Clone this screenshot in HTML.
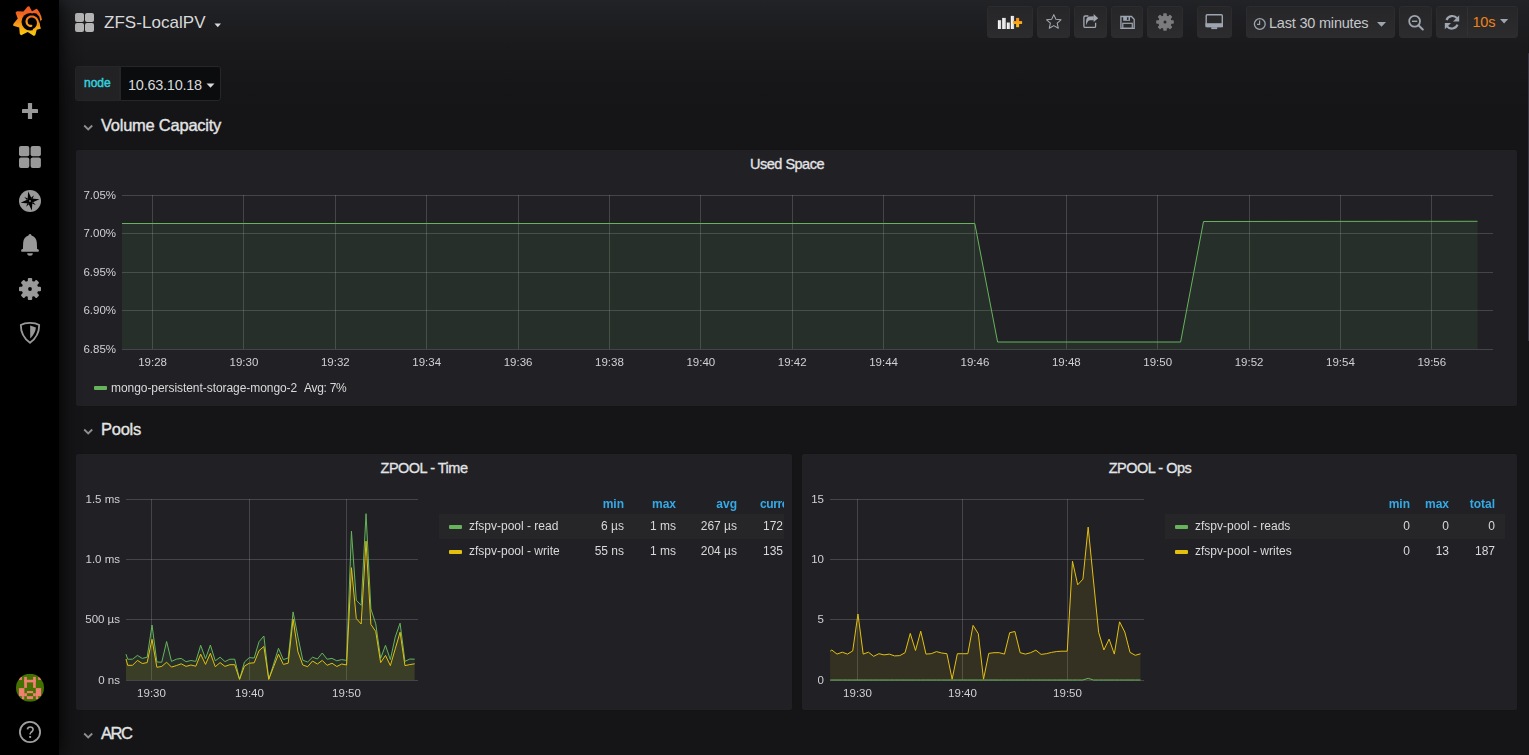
<!DOCTYPE html>
<html><head><meta charset="utf-8"><title>ZFS-LocalPV - Grafana</title>
<style>
*{box-sizing:border-box;margin:0;padding:0}
html,body{width:1529px;height:755px;overflow:hidden;background:#151517;font-family:"Liberation Sans",Arial,sans-serif;color:#d8d9da}
#bg{position:absolute;left:0;top:0;width:1529px;height:755px;background:linear-gradient(180deg,#222326 0px,#1f2023 12px,#1a1a1d 45px,#161618 85px,#151517 110px)}
.side{position:absolute;left:0;top:0;width:59px;height:755px;background:#000;box-shadow:0 0 20px #000;z-index:5}
.side svg{position:absolute;left:0;top:0}
.abs{position:absolute}
.title{position:absolute;left:104px;top:12px;font-size:17px;line-height:22px;color:#d8d9da;letter-spacing:0.05px}
.btn{position:absolute;top:6px;height:32px;border-radius:3px;border:1px solid #2c2c2f;background:linear-gradient(180deg,#262628,#2c2c2f)}
.btn svg{position:absolute;left:0;top:0}
.navtxt{position:absolute;font-size:14.5px;line-height:16px;color:#c4c6c9;letter-spacing:-0.2px;white-space:nowrap}
.varlabel{position:absolute;left:75px;top:66px;width:45px;height:35px;background:#222225;border:1px solid #262628;border-radius:3px 0 0 3px;color:#32d1df;font-size:12px;line-height:33px;padding-left:8px;-webkit-text-stroke:0.45px #32d1df}
.varval{position:absolute;left:120px;top:66px;width:101px;height:35px;background:#0b0c0e;border:1px solid #262628;border-radius:0 3px 3px 0;font-size:14.5px;letter-spacing:-0.25px;line-height:36px;color:#d8d9da;padding-left:7px}
.rowt{position:absolute;left:101px;font-size:16.5px;line-height:20px;letter-spacing:-0.25px;color:#e3e4e6;-webkit-text-stroke:0.35px #e3e4e6;white-space:nowrap}
.chev{position:absolute;left:83px}
.panel{position:absolute;background:#212125;border:1px solid #141414;border-radius:3px}
.ptitle{position:absolute;font-size:14.5px;line-height:16px;letter-spacing:-0.5px;color:#e3e4e6;-webkit-text-stroke:0.3px #e3e4e6;white-space:nowrap;text-align:center}
.tick{position:absolute;font-size:11.5px;line-height:12px;transform:translateY(-50%);color:#d0d1d3;white-space:nowrap}
.tick.c{text-align:center}
.leg{position:absolute;font-size:12px;line-height:14px;color:#d8d9da;white-space:nowrap}
.legh{position:absolute;font-size:12px;line-height:14px;color:#35a9e6;font-weight:bold;white-space:nowrap}
.sw{position:absolute;width:13px;height:4px;border-radius:1px}
.rowbg{position:absolute;background:#262629}
#charts{position:absolute;left:0;top:0}
</style></head>
<body>
<div id="bg"></div>

<!-- ============ SIDEMENU ============ -->
<div class="side">
<svg width="59" height="755" viewBox="0 0 59 755">
  <defs>
    <linearGradient id="glogo" gradientUnits="userSpaceOnUse" x1="0" y1="6" x2="0" y2="36">
      <stop offset="0" stop-color="#f05a28"/>
      <stop offset="0.25" stop-color="#f2621f"/>
      <stop offset="0.6" stop-color="#f69a1a"/>
      <stop offset="1" stop-color="#fbd109"/>
    </linearGradient>
    <clipPath id="avc"><circle cx="30" cy="687.8" r="14"/></clipPath>
  </defs>
  <!-- grafana logo -->
  <path fill="url(#glogo)" d="M27.60,6.50 L29.20,6.20 L32.01,11.27 L36.50,8.80 L37.80,9.80 L39.80,13.00 L41.30,16.50 L41.90,20.00 L40.70,20.60 L39.60,22.60 L40.30,26.80 L41.00,28.50 L36.74,29.84 L35.30,35.00 L34.00,36.00 L27.71,31.91 L21.20,35.20 L19.80,34.00 L19.20,27.61 L13.20,25.80 L13.30,24.00 L17.73,18.49 L15.50,12.50 L17.00,11.30 L23.50,11.52 Z"/>
  <circle cx="30.3" cy="21.8" r="8.8" fill="#000"/>
  <path fill="#000" d="M30.30,21.80 L33.00,13.00 L36.50,13.60 L39.20,16.50 L40.20,20.20 L39.60,22.60 L37.50,24.00 Z"/>
  <path d="M31.34,25.89 L30.75,25.90 L30.16,25.85 L29.59,25.71 L29.03,25.49 L28.50,25.19 L28.01,24.81 L27.57,24.37 L27.20,23.85 L26.90,23.28 L26.68,22.66 L26.56,22.01 L26.52,21.33 L26.59,20.64 L26.77,19.96 L27.04,19.29 L27.42,18.66 L27.90,18.09 L28.47,17.57 L29.12,17.14 L29.85,16.81 L30.63,16.58 L31.46,16.47 L32.31,16.48 L33.17,16.62 L34.02,16.90 L34.83,17.31 L35.59,17.85 L36.28,18.51 L36.87,19.28 L37.35,20.15 L37.70,21.10 L37.91,22.12 L37.96,23.18 L37.85,24.26 L37.58,25.33 L37.13,26.37 L36.52,27.36 L35.76,28.26 L34.85,29.05 L33.80,29.71" fill="none" stroke="url(#glogo)" stroke-width="2.1" stroke-linecap="round"/>
  <!-- plus -->
  <rect x="22" y="108.9" width="16" height="4.2" fill="#999" rx="0.6"/>
  <rect x="27.9" y="103" width="4.2" height="16" fill="#999" rx="0.6"/>
  <!-- dashboards -->
  <rect x="19" y="146" width="10.3" height="10.3" rx="2" fill="#999"/>
  <rect x="30.6" y="146" width="10.3" height="10.3" rx="2" fill="#999"/>
  <rect x="19" y="157.6" width="10.3" height="10.3" rx="2" fill="#999"/>
  <rect x="30.6" y="157.6" width="10.3" height="10.3" rx="2" fill="#999"/>
  <!-- explore compass -->
  <circle cx="30" cy="201" r="11" fill="#999"/>
  <path d="M28.17,191.58 L31.62,198.60 L39.42,199.17 L32.40,202.62 L31.83,210.42 L28.38,203.40 L20.58,202.83 L27.60,199.38 Z" fill="#000"/>
  <path d="M33.91,195.20 L30.88,197.92 L32.52,199.03 Z M35.80,204.91 L33.08,201.88 L31.97,203.52 Z M26.09,206.80 L29.12,204.08 L27.48,202.97 Z M24.20,197.09 L26.92,200.12 L28.03,198.48 Z " fill="#000"/>
  <circle cx="30" cy="201" r="0.9" fill="#888"/>
  <!-- bell -->
  <path d="M30,234 C31,234 31.4,234.8 31.5,235.4 C34.6,236.3 36.6,238.7 36.8,242.6 L37.1,249 L38.1,249.2 C39.1,249.4 39.2,251.7 38.1,251.7 L21.9,251.7 C20.8,251.7 20.9,249.4 21.9,249.2 L22.9,249 L23.2,242.6 C23.4,238.7 25.4,236.3 28.5,235.4 C28.6,234.8 29,234 30,234 Z" fill="#999"/>
  <path d="M27.2,253.2 L32.8,253.2 A2.8,2.5 0 0 1 27.2,253.2 Z" fill="#999"/>
  <!-- gear -->
  <g fill="#999">
    <circle cx="30" cy="289" r="8.3"/>
    <g id="teeth">
      <rect x="27.8" y="278" width="4.4" height="4" rx="1"/>
      <rect x="27.8" y="296" width="4.4" height="4" rx="1"/>
      <rect x="19" y="286.8" width="4" height="4.4" rx="1"/>
      <rect x="37" y="286.8" width="4" height="4.4" rx="1"/>
      <rect x="27.8" y="278" width="4.4" height="4" rx="1" transform="rotate(45 30 289)"/>
      <rect x="27.8" y="296" width="4.4" height="4" rx="1" transform="rotate(45 30 289)"/>
      <rect x="19" y="286.8" width="4" height="4.4" rx="1" transform="rotate(45 30 289)"/>
      <rect x="37" y="286.8" width="4" height="4.4" rx="1" transform="rotate(45 30 289)"/>
    </g>
  </g>
  <circle cx="30" cy="289" r="1.9" fill="#000"/>
  <!-- shield -->
  <path d="M30,322.8 C26.5,322.8 23,323.6 20.8,325 C20.8,332 24,338.5 30,342.8 C36,338.5 39.2,332 39.2,325 C37,323.6 33.5,322.8 30,322.8 Z" fill="none" stroke="#999" stroke-width="1.8"/>
  <path d="M30.2,325.6 L35.9,327.6 C35.6,331.5 33.5,335.5 30.2,338.4 Z" fill="#999"/>
  <!-- avatar -->
  <g clip-path="url(#avc)">
    <rect x="16" y="673.8" width="28" height="28" fill="#437203"/>
    <g fill="#f08070" transform="translate(14,672)">
      <rect x="4.9" y="4.9" width="3" height="3"/>
      <rect x="24.2" y="4.9" width="3" height="3"/>
      <rect x="10.2" y="4.9" width="2.7" height="11"/>
      <rect x="19.1" y="4.9" width="2.7" height="11"/>
      <rect x="10.2" y="7.8" width="11.6" height="2.6"/>
      <rect x="4.9" y="16.1" width="5.5" height="8.05"/>
      <rect x="10.2" y="21.2" width="2.7" height="3"/>
      <rect x="7.8" y="24.15" width="2.4" height="3"/>
      <rect x="21.8" y="16.1" width="5.3" height="8.05"/>
      <rect x="19.1" y="21.2" width="2.7" height="3"/>
      <rect x="21.8" y="24.15" width="2.4" height="3"/>
      <rect x="12.9" y="19.07" width="6.2" height="2.1"/>
      <rect x="12.9" y="24.15" width="6.2" height="2.9"/>
    </g>
  </g>
  <!-- help -->
  <circle cx="30" cy="732" r="10.1" fill="none" stroke="#a0a0a0" stroke-width="1.8"/>
  <path d="M27.4,729.4 C27.6,727.7 28.8,727 30.2,727 C31.9,727 33.1,728.1 33.1,729.6 C33.1,731.2 31.8,731.7 30.9,732.5 C30.3,733 30.1,733.5 30.1,734.6" fill="none" stroke="#a0a0a0" stroke-width="1.6"/>
  <rect x="29.2" y="736" width="1.9" height="1.9" fill="#a0a0a0"/>
</svg>
</div>

<!-- ============ NAVBAR ============ -->
<svg class="abs" style="left:75px;top:13px" width="20" height="20" viewBox="0 0 20 20">
  <rect x="0" y="0" width="9" height="9" rx="2" fill="#b3b3b3"/>
  <rect x="10" y="0" width="9" height="9" rx="2" fill="#b3b3b3"/>
  <rect x="0" y="10" width="9" height="9" rx="2" fill="#b3b3b3"/>
  <rect x="10" y="10" width="9" height="9" rx="2" fill="#b3b3b3"/>
</svg>
<div class="title">ZFS-LocalPV</div>
<svg class="abs" style="left:214px;top:23px" width="8" height="5" viewBox="0 0 8 5"><path d="M0.5,0.5 L7,0.5 L3.75,4.3 Z" fill="#d8d9da"/></svg>

<!-- buttons -->
<div class="btn" style="left:987px;width:46px"></div>
<div class="btn" style="left:1037px;width:33px"></div>
<div class="btn" style="left:1074px;width:33px"></div>
<div class="btn" style="left:1111px;width:32px"></div>
<div class="btn" style="left:1147px;width:36px"></div>
<div class="btn" style="left:1197px;width:35px"></div>
<div class="btn" style="left:1246px;width:149px"></div>
<div class="btn" style="left:1399px;width:33px"></div>
<div class="btn" style="left:1436px;width:82px"></div>
<div class="abs" style="left:1467px;top:7px;width:1px;height:30px;background:#313134"></div>

<svg class="abs" style="left:0;top:0" width="1529" height="45" viewBox="0 0 1529 45">
  <defs>
    <linearGradient id="barg" x1="0" y1="0" x2="1" y2="0"><stop offset="0" stop-color="#fff"/><stop offset="1" stop-color="#d0d0d0"/></linearGradient>
    <linearGradient id="plusg" x1="0" y1="0" x2="0" y2="1"><stop offset="0" stop-color="#f68a1f"/><stop offset="1" stop-color="#ffc20e"/></linearGradient>
  </defs>
  <!-- add panel -->
  <rect x="997.9" y="20.2" width="3.2" height="8.8" fill="url(#barg)"/>
  <rect x="1002.2" y="17.9" width="3.6" height="11.1" fill="url(#barg)"/>
  <rect x="1006.8" y="22.5" width="3.1" height="6.5" fill="url(#barg)"/>
  <rect x="1010.8" y="15.9" width="3.3" height="13.1" fill="url(#barg)"/>
  <rect x="1013.1" y="21" width="9" height="2.9" fill="url(#plusg)"/>
  <rect x="1016.1" y="17.9" width="3" height="9.3" fill="url(#plusg)"/>
  <!-- star -->
  <path d="M1053.8,14.6 L1055.9,19.3 L1061,19.8 L1057.2,23.2 L1058.3,28.2 L1053.8,25.6 L1049.3,28.2 L1050.4,23.2 L1046.6,19.8 L1051.7,19.3 Z" fill="none" stroke="#a3a8b0" stroke-width="1.05" stroke-linejoin="round"/>
  <!-- share -->
  <path d="M1088.4,16 L1085.2,16 C1084.4,16 1083.9,16.5 1083.9,17.3 L1083.9,26.2 C1083.9,27 1084.4,27.4 1085.2,27.4 L1094.4,27.4 C1095.2,27.4 1095.6,27 1095.6,26.2 L1095.6,22.8" fill="none" stroke="#a3a8b0" stroke-width="1.3"/>
  <path d="M1093.8,16.3 L1089.6,16.5 C1086.6,16.7 1085.6,19.6 1086.3,25.3 C1087.2,22.1 1088.2,20.2 1090.2,20.2 L1093.8,20.2 Z" fill="#a3a8b0"/>
  <path d="M1093.6,13.9 L1098.2,18.2 L1093.6,22.1 Z" fill="#a3a8b0"/>
  <!-- save -->
  <path d="M1120.9,16.5 L1131.5,16.5 L1134.2,19.2 L1134.2,28.3 L1120.9,28.3 Z" fill="none" stroke="#9da5b0" stroke-width="1.3"/>
  <rect x="1123.2" y="16.5" width="6.8" height="4.3" fill="#9da5b0"/>
  <rect x="1126.9" y="17.3" width="1.6" height="2.6" fill="#2a2a2c"/>
  <rect x="1122.8" y="23.3" width="9.5" height="5" fill="none" stroke="#9da5b0" stroke-width="1.2"/>
  <!-- settings gear -->
  <g fill="#7b7b7e">
    <circle cx="1165" cy="22" r="6.6"/>
    <g>
      <rect x="1163.2" y="13.2" width="3.6" height="3.6" rx="0.8"/>
      <rect x="1163.2" y="27.2" width="3.6" height="3.6" rx="0.8"/>
      <rect x="1156.2" y="20.2" width="3.6" height="3.6" rx="0.8"/>
      <rect x="1170.2" y="20.2" width="3.6" height="3.6" rx="0.8"/>
    </g>
    <g transform="rotate(45 1165 22)">
      <rect x="1163.2" y="13.2" width="3.6" height="3.6" rx="0.8"/>
      <rect x="1163.2" y="27.2" width="3.6" height="3.6" rx="0.8"/>
      <rect x="1156.2" y="20.2" width="3.6" height="3.6" rx="0.8"/>
      <rect x="1170.2" y="20.2" width="3.6" height="3.6" rx="0.8"/>
    </g>
  </g>
  <circle cx="1165" cy="22" r="1.5" fill="#2a2a2c"/>
  <!-- tv -->
  <rect x="1206.2" y="14.7" width="16.1" height="11.8" rx="1" fill="none" stroke="#9da5b0" stroke-width="1.4"/>
  <rect x="1205.5" y="23.2" width="17.5" height="4" fill="#9da5b0"/>
  <rect x="1211.3" y="27.2" width="5.9" height="1.9" fill="#9da5b0"/>
  <!-- clock -->
  <circle cx="1259.8" cy="24" r="5.4" fill="none" stroke="#9da5b0" stroke-width="1.3"/>
  <path d="M1259.6,20.5 L1259.6,24.4 L1257,24.4" fill="none" stroke="#9da5b0" stroke-width="1.2"/>
  <!-- caret time -->
  <path d="M1377,22 L1386,22 L1381.5,26.8 Z" fill="#9da5b0"/>
  <!-- zoom out -->
  <circle cx="1414.6" cy="21.3" r="5.4" fill="none" stroke="#9da5b0" stroke-width="1.8"/>
  <path d="M1418.5,25.3 L1422.8,29.5" stroke="#9da5b0" stroke-width="2" stroke-linecap="round"/>
  <path d="M1412,21.3 L1417.3,21.3" stroke="#9da5b0" stroke-width="1.4"/>
  <!-- refresh -->
  <path d="M1446.5,20 A6.2,6.2 0 0 1 1457.2,18.4" fill="none" stroke="#9da5b0" stroke-width="2.2"/>
  <path d="M1459.2,15.3 L1459.2,21.6 L1453,21.6 Z" fill="#9da5b0"/>
  <path d="M1457.5,24.6 A6.2,6.2 0 0 1 1446.8,26.2" fill="none" stroke="#9da5b0" stroke-width="2.2"/>
  <path d="M1444.8,29.3 L1444.8,23 L1451,23 Z" fill="#9da5b0"/>
  <!-- caret refresh -->
  <path d="M1500,19 L1508.2,19 L1504.1,23.6 Z" fill="#9da5b0"/>
</svg>
<div class="navtxt" style="left:1269px;top:15px">Last 30 minutes</div>
<div class="navtxt" style="left:1472.5px;top:14px;color:#f08217">10s</div>

<!-- ============ VARIABLES ============ -->
<div class="varlabel">node</div>
<div class="varval">10.63.10.18</div>
<svg class="abs" style="left:205.5px;top:82.8px" width="10" height="6" viewBox="0 0 10 6"><path d="M0.5,0.5 L8.5,0.5 L4.5,4.8 Z" fill="#d8d9da"/></svg>

<!-- ============ ROWS ============ -->
<svg class="chev" style="top:124px" width="11" height="8" viewBox="0 0 11 8"><path d="M1.2,1.5 L5.2,5.5 L9.2,1.5" fill="none" stroke="#8e8e8e" stroke-width="1.8"/></svg>
<div class="rowt" style="top:115px">Volume Capacity</div>
<svg class="chev" style="top:428px" width="11" height="8" viewBox="0 0 11 8"><path d="M1.2,1.5 L5.2,5.5 L9.2,1.5" fill="none" stroke="#8e8e8e" stroke-width="1.8"/></svg>
<div class="rowt" style="top:419px">Pools</div>
<svg class="chev" style="top:732px" width="11" height="8" viewBox="0 0 11 8"><path d="M1.2,1.5 L5.2,5.5 L9.2,1.5" fill="none" stroke="#8e8e8e" stroke-width="1.8"/></svg>
<div class="rowt" style="top:723px;letter-spacing:-1.4px">ARC</div>

<!-- ============ PANELS ============ -->
<div class="panel" style="left:75px;top:149px;width:1443px;height:258px"></div>
<div class="panel" style="left:75px;top:453px;width:718px;height:258px"></div>
<div class="panel" style="left:801px;top:453px;width:717px;height:258px"></div>

<div class="ptitle" style="left:687px;width:200px;top:156px">Used Space</div>
<div class="ptitle" style="left:324px;width:200px;top:460px">ZPOOL - Time</div>
<div class="ptitle" style="left:1050px;width:200px;top:460px">ZPOOL - Ops</div>

<svg id="charts" width="1529" height="755" viewBox="0 0 1529 755">
<line x1="122" y1="195.5" x2="1493" y2="195.5" stroke="rgba(200,200,200,0.22)" stroke-width="1"/>
<line x1="122" y1="233.5" x2="1493" y2="233.5" stroke="rgba(200,200,200,0.22)" stroke-width="1"/>
<line x1="122" y1="272.5" x2="1493" y2="272.5" stroke="rgba(200,200,200,0.22)" stroke-width="1"/>
<line x1="122" y1="310.5" x2="1493" y2="310.5" stroke="rgba(200,200,200,0.22)" stroke-width="1"/>
<line x1="122" y1="349.5" x2="1493" y2="349.5" stroke="rgba(200,200,200,0.22)" stroke-width="1"/>
<line x1="152.5" y1="195" x2="152.5" y2="349" stroke="rgba(200,200,200,0.22)" stroke-width="1"/>
<line x1="243.5" y1="195" x2="243.5" y2="349" stroke="rgba(200,200,200,0.22)" stroke-width="1"/>
<line x1="335.5" y1="195" x2="335.5" y2="349" stroke="rgba(200,200,200,0.22)" stroke-width="1"/>
<line x1="426.5" y1="195" x2="426.5" y2="349" stroke="rgba(200,200,200,0.22)" stroke-width="1"/>
<line x1="518.5" y1="195" x2="518.5" y2="349" stroke="rgba(200,200,200,0.22)" stroke-width="1"/>
<line x1="609.5" y1="195" x2="609.5" y2="349" stroke="rgba(200,200,200,0.22)" stroke-width="1"/>
<line x1="700.5" y1="195" x2="700.5" y2="349" stroke="rgba(200,200,200,0.22)" stroke-width="1"/>
<line x1="792.5" y1="195" x2="792.5" y2="349" stroke="rgba(200,200,200,0.22)" stroke-width="1"/>
<line x1="883.5" y1="195" x2="883.5" y2="349" stroke="rgba(200,200,200,0.22)" stroke-width="1"/>
<line x1="974.5" y1="195" x2="974.5" y2="349" stroke="rgba(200,200,200,0.22)" stroke-width="1"/>
<line x1="1066.5" y1="195" x2="1066.5" y2="349" stroke="rgba(200,200,200,0.22)" stroke-width="1"/>
<line x1="1157.5" y1="195" x2="1157.5" y2="349" stroke="rgba(200,200,200,0.22)" stroke-width="1"/>
<line x1="1249.5" y1="195" x2="1249.5" y2="349" stroke="rgba(200,200,200,0.22)" stroke-width="1"/>
<line x1="1340.5" y1="195" x2="1340.5" y2="349" stroke="rgba(200,200,200,0.22)" stroke-width="1"/>
<line x1="1431.5" y1="195" x2="1431.5" y2="349" stroke="rgba(200,200,200,0.22)" stroke-width="1"/>
<path d="M122.00,349 L122.00,223.50 L974.80,223.50 L997.60,342.00 L1180.60,342.00 L1203.50,221.50 L1477.50,221.30 L1477.50,349 Z" fill="#66b35c" fill-opacity="0.1"/>
<polyline points="122.00,223.50 974.80,223.50 997.60,342.00 1180.60,342.00 1203.50,221.50 1477.50,221.30" fill="none" stroke="#66b35c" stroke-width="1"/>
<line x1="126" y1="499.5" x2="418" y2="499.5" stroke="rgba(200,200,200,0.22)" stroke-width="1"/>
<line x1="126" y1="559.5" x2="418" y2="559.5" stroke="rgba(200,200,200,0.22)" stroke-width="1"/>
<line x1="126" y1="619.5" x2="418" y2="619.5" stroke="rgba(200,200,200,0.22)" stroke-width="1"/>
<line x1="126" y1="680.5" x2="418" y2="680.5" stroke="rgba(200,200,200,0.22)" stroke-width="1"/>
<line x1="151.5" y1="499" x2="151.5" y2="680" stroke="rgba(200,200,200,0.22)" stroke-width="1"/>
<line x1="249.5" y1="499" x2="249.5" y2="680" stroke="rgba(200,200,200,0.22)" stroke-width="1"/>
<line x1="346.5" y1="499" x2="346.5" y2="680" stroke="rgba(200,200,200,0.22)" stroke-width="1"/>
<path d="M126.00,680 L126.00,654.20 L127.70,659.20 L132.56,659.20 L137.43,655.40 L142.29,658.40 L147.16,657.20 L152.02,625.00 L156.88,662.00 L161.75,662.20 L166.61,641.50 L171.48,661.40 L176.34,659.20 L181.20,658.40 L186.07,661.70 L190.93,660.50 L195.80,661.40 L200.66,645.30 L205.52,658.60 L210.39,645.00 L215.25,660.80 L220.12,657.20 L224.98,661.60 L229.84,659.20 L234.71,659.20 L239.57,679.30 L244.44,662.00 L249.30,657.60 L254.16,658.00 L259.03,641.70 L263.89,636.00 L268.76,679.30 L273.62,664.00 L278.48,648.30 L283.35,659.60 L288.21,658.00 L293.08,611.90 L297.94,637.00 L302.80,660.20 L307.67,662.00 L312.53,657.20 L317.40,659.00 L322.26,653.00 L327.12,659.20 L331.99,658.40 L336.85,660.80 L341.72,659.60 L346.58,660.40 L351.44,531.20 L356.31,600.20 L361.17,605.30 L366.04,513.70 L370.90,609.00 L375.76,623.80 L380.63,658.40 L385.49,645.30 L390.36,659.60 L395.22,637.00 L400.08,623.20 L404.95,661.40 L409.81,659.00 L414.68,659.20 L414.68,680 Z" fill="#66b35c" fill-opacity="0.1"/>
<path d="M126.00,680 L126.00,659.01 L127.70,665.30 L132.56,665.30 L137.43,660.40 L142.29,663.50 L147.16,662.60 L152.02,639.30 L156.88,667.30 L161.75,666.40 L166.61,662.20 L171.48,667.10 L176.34,665.60 L181.20,663.80 L186.07,666.40 L190.93,665.00 L195.80,666.20 L200.66,654.20 L205.52,664.40 L210.39,653.30 L215.25,666.70 L220.12,662.60 L224.98,666.40 L229.84,664.70 L234.71,664.70 L239.57,679.30 L244.44,666.10 L249.30,663.20 L254.16,662.80 L259.03,650.70 L263.89,646.50 L268.76,679.30 L273.62,666.70 L278.48,654.20 L283.35,664.40 L288.21,663.20 L293.08,619.10 L297.94,651.80 L302.80,665.00 L307.67,666.70 L312.53,661.00 L317.40,664.00 L322.26,660.40 L327.12,665.30 L331.99,663.20 L336.85,666.50 L341.72,664.00 L346.58,665.00 L351.44,567.70 L356.31,618.50 L361.17,624.00 L366.04,541.20 L370.90,624.40 L375.76,631.60 L380.63,662.60 L385.49,655.40 L390.36,665.60 L395.22,648.90 L400.08,632.20 L404.95,665.60 L409.81,664.60 L414.68,663.80 L414.68,680 Z" fill="#e3c00e" fill-opacity="0.1"/>
<polyline points="126.00,654.20 127.70,659.20 132.56,659.20 137.43,655.40 142.29,658.40 147.16,657.20 152.02,625.00 156.88,662.00 161.75,662.20 166.61,641.50 171.48,661.40 176.34,659.20 181.20,658.40 186.07,661.70 190.93,660.50 195.80,661.40 200.66,645.30 205.52,658.60 210.39,645.00 215.25,660.80 220.12,657.20 224.98,661.60 229.84,659.20 234.71,659.20 239.57,679.30 244.44,662.00 249.30,657.60 254.16,658.00 259.03,641.70 263.89,636.00 268.76,679.30 273.62,664.00 278.48,648.30 283.35,659.60 288.21,658.00 293.08,611.90 297.94,637.00 302.80,660.20 307.67,662.00 312.53,657.20 317.40,659.00 322.26,653.00 327.12,659.20 331.99,658.40 336.85,660.80 341.72,659.60 346.58,660.40 351.44,531.20 356.31,600.20 361.17,605.30 366.04,513.70 370.90,609.00 375.76,623.80 380.63,658.40 385.49,645.30 390.36,659.60 395.22,637.00 400.08,623.20 404.95,661.40 409.81,659.00 414.68,659.20" fill="none" stroke="#66b35c" stroke-width="1"/>
<polyline points="126.00,659.01 127.70,665.30 132.56,665.30 137.43,660.40 142.29,663.50 147.16,662.60 152.02,639.30 156.88,667.30 161.75,666.40 166.61,662.20 171.48,667.10 176.34,665.60 181.20,663.80 186.07,666.40 190.93,665.00 195.80,666.20 200.66,654.20 205.52,664.40 210.39,653.30 215.25,666.70 220.12,662.60 224.98,666.40 229.84,664.70 234.71,664.70 239.57,679.30 244.44,666.10 249.30,663.20 254.16,662.80 259.03,650.70 263.89,646.50 268.76,679.30 273.62,666.70 278.48,654.20 283.35,664.40 288.21,663.20 293.08,619.10 297.94,651.80 302.80,665.00 307.67,666.70 312.53,661.00 317.40,664.00 322.26,660.40 327.12,665.30 331.99,663.20 336.85,666.50 341.72,664.00 346.58,665.00 351.44,567.70 356.31,618.50 361.17,624.00 366.04,541.20 370.90,624.40 375.76,631.60 380.63,662.60 385.49,655.40 390.36,665.60 395.22,648.90 400.08,632.20 404.95,665.60 409.81,664.60 414.68,663.80" fill="none" stroke="#e3c00e" stroke-width="1"/>
<line x1="830" y1="499.5" x2="1144" y2="499.5" stroke="rgba(200,200,200,0.22)" stroke-width="1"/>
<line x1="830" y1="559.5" x2="1144" y2="559.5" stroke="rgba(200,200,200,0.22)" stroke-width="1"/>
<line x1="830" y1="619.5" x2="1144" y2="619.5" stroke="rgba(200,200,200,0.22)" stroke-width="1"/>
<line x1="830" y1="680.5" x2="1144" y2="680.5" stroke="rgba(200,200,200,0.22)" stroke-width="1"/>
<line x1="857.5" y1="499" x2="857.5" y2="680" stroke="rgba(200,200,200,0.22)" stroke-width="1"/>
<line x1="962.5" y1="499" x2="962.5" y2="680" stroke="rgba(200,200,200,0.22)" stroke-width="1"/>
<line x1="1067.5" y1="499" x2="1067.5" y2="680" stroke="rgba(200,200,200,0.22)" stroke-width="1"/>
<path d="M830.20,680 L830.20,680.00 L831.80,680.00 L837.03,680.00 L842.26,680.00 L847.50,680.00 L852.73,680.00 L857.96,680.00 L863.19,680.00 L868.42,680.00 L873.66,680.00 L878.89,680.00 L884.12,680.00 L889.35,680.00 L894.58,680.00 L899.82,680.00 L905.05,680.00 L910.28,680.00 L915.51,680.00 L920.74,680.00 L925.98,680.00 L931.21,680.00 L936.44,680.00 L941.67,680.00 L946.90,680.00 L952.14,680.00 L957.37,680.00 L962.60,680.00 L967.83,680.00 L973.06,680.00 L978.30,680.00 L983.53,680.00 L988.76,680.00 L993.99,680.00 L999.22,680.00 L1004.46,680.00 L1009.69,680.00 L1014.92,680.00 L1020.15,680.00 L1025.38,680.00 L1030.62,680.00 L1035.85,680.00 L1041.08,680.00 L1046.31,680.00 L1051.54,680.00 L1056.78,680.00 L1062.01,680.00 L1067.24,680.00 L1072.47,680.00 L1077.70,680.00 L1082.94,680.00 L1088.17,678.30 L1093.40,680.00 L1098.63,680.00 L1103.86,680.00 L1109.10,680.00 L1114.33,680.00 L1119.56,680.00 L1124.79,680.00 L1130.02,680.00 L1135.26,680.00 L1140.49,680.00 L1140.49,680 Z" fill="#66b35c" fill-opacity="0.1"/>
<path d="M830.20,680 L830.20,651.19 L831.80,650.00 L837.03,654.10 L842.26,652.20 L847.50,654.10 L852.73,650.90 L857.96,614.00 L863.19,654.10 L868.42,652.20 L873.66,656.30 L878.89,653.70 L884.12,654.90 L889.35,654.10 L894.58,655.90 L899.82,655.60 L905.05,652.70 L910.28,633.40 L915.51,650.50 L920.74,631.20 L925.98,654.10 L931.21,653.70 L936.44,651.60 L941.67,653.00 L946.90,653.70 L952.14,679.20 L957.37,653.70 L962.60,653.70 L967.83,653.70 L973.06,625.40 L978.30,633.70 L983.53,679.20 L988.76,653.40 L993.99,652.70 L999.22,652.70 L1004.46,654.10 L1009.69,632.70 L1014.92,631.50 L1020.15,652.70 L1025.38,654.10 L1030.62,652.70 L1035.85,650.20 L1041.08,654.40 L1046.31,653.70 L1051.54,652.40 L1056.78,651.50 L1062.01,651.20 L1067.24,651.20 L1072.47,561.20 L1077.70,584.80 L1082.94,579.10 L1088.17,527.10 L1093.40,580.00 L1098.63,632.20 L1103.86,650.00 L1109.10,639.10 L1114.33,654.10 L1119.56,621.80 L1124.79,632.00 L1130.02,652.40 L1135.26,655.30 L1140.49,653.80 L1140.49,680 Z" fill="#e3c00e" fill-opacity="0.1"/>
<polyline points="830.20,680.00 831.80,680.00 837.03,680.00 842.26,680.00 847.50,680.00 852.73,680.00 857.96,680.00 863.19,680.00 868.42,680.00 873.66,680.00 878.89,680.00 884.12,680.00 889.35,680.00 894.58,680.00 899.82,680.00 905.05,680.00 910.28,680.00 915.51,680.00 920.74,680.00 925.98,680.00 931.21,680.00 936.44,680.00 941.67,680.00 946.90,680.00 952.14,680.00 957.37,680.00 962.60,680.00 967.83,680.00 973.06,680.00 978.30,680.00 983.53,680.00 988.76,680.00 993.99,680.00 999.22,680.00 1004.46,680.00 1009.69,680.00 1014.92,680.00 1020.15,680.00 1025.38,680.00 1030.62,680.00 1035.85,680.00 1041.08,680.00 1046.31,680.00 1051.54,680.00 1056.78,680.00 1062.01,680.00 1067.24,680.00 1072.47,680.00 1077.70,680.00 1082.94,680.00 1088.17,678.30 1093.40,680.00 1098.63,680.00 1103.86,680.00 1109.10,680.00 1114.33,680.00 1119.56,680.00 1124.79,680.00 1130.02,680.00 1135.26,680.00 1140.49,680.00" fill="none" stroke="#66b35c" stroke-width="1"/>
<polyline points="830.20,651.19 831.80,650.00 837.03,654.10 842.26,652.20 847.50,654.10 852.73,650.90 857.96,614.00 863.19,654.10 868.42,652.20 873.66,656.30 878.89,653.70 884.12,654.90 889.35,654.10 894.58,655.90 899.82,655.60 905.05,652.70 910.28,633.40 915.51,650.50 920.74,631.20 925.98,654.10 931.21,653.70 936.44,651.60 941.67,653.00 946.90,653.70 952.14,679.20 957.37,653.70 962.60,653.70 967.83,653.70 973.06,625.40 978.30,633.70 983.53,679.20 988.76,653.40 993.99,652.70 999.22,652.70 1004.46,654.10 1009.69,632.70 1014.92,631.50 1020.15,652.70 1025.38,654.10 1030.62,652.70 1035.85,650.20 1041.08,654.40 1046.31,653.70 1051.54,652.40 1056.78,651.50 1062.01,651.20 1067.24,651.20 1072.47,561.20 1077.70,584.80 1082.94,579.10 1088.17,527.10 1093.40,580.00 1098.63,632.20 1103.86,650.00 1109.10,639.10 1114.33,654.10 1119.56,621.80 1124.79,632.00 1130.02,652.40 1135.26,655.30 1140.49,653.80" fill="none" stroke="#e3c00e" stroke-width="1"/>
</svg>

<div style="position:absolute;left:0;top:0;width:1529px;height:755px;will-change:transform">
<div class="tick" style="right:1413px;top:194.5px;">7.05%</div>
<div class="tick" style="right:1413px;top:232.5px;">7.00%</div>
<div class="tick" style="right:1413px;top:271.5px;">6.95%</div>
<div class="tick" style="right:1413px;top:309.5px;">6.90%</div>
<div class="tick" style="right:1413px;top:348.5px;">6.85%</div>
<div class="tick c" style="left:52.599999999999994px;width:200px;top:362px;">19:28</div>
<div class="tick c" style="left:143.97px;width:200px;top:362px;">19:30</div>
<div class="tick c" style="left:235.34000000000003px;width:200px;top:362px;">19:32</div>
<div class="tick c" style="left:326.71000000000004px;width:200px;top:362px;">19:34</div>
<div class="tick c" style="left:418.08000000000004px;width:200px;top:362px;">19:36</div>
<div class="tick c" style="left:509.45000000000005px;width:200px;top:362px;">19:38</div>
<div class="tick c" style="left:600.82px;width:200px;top:362px;">19:40</div>
<div class="tick c" style="left:692.19px;width:200px;top:362px;">19:42</div>
<div class="tick c" style="left:783.5600000000001px;width:200px;top:362px;">19:44</div>
<div class="tick c" style="left:874.9300000000001px;width:200px;top:362px;">19:46</div>
<div class="tick c" style="left:966.3px;width:200px;top:362px;">19:48</div>
<div class="tick c" style="left:1057.67px;width:200px;top:362px;">19:50</div>
<div class="tick c" style="left:1149.04px;width:200px;top:362px;">19:52</div>
<div class="tick c" style="left:1240.4099999999999px;width:200px;top:362px;">19:54</div>
<div class="tick c" style="left:1331.78px;width:200px;top:362px;">19:56</div>
<div class="tick" style="right:1409px;top:498.5px;">1.5 ms</div>
<div class="tick" style="right:1409px;top:558.5px;">1.0 ms</div>
<div class="tick" style="right:1409px;top:618.5px;">500 µs</div>
<div class="tick" style="right:1409px;top:679.5px;">0 ns</div>
<div class="tick c" style="left:51.5px;width:200px;top:693px;">19:30</div>
<div class="tick c" style="left:149.5px;width:200px;top:693px;">19:40</div>
<div class="tick c" style="left:246.5px;width:200px;top:693px;">19:50</div>
<div class="tick" style="right:705px;top:498.5px;">15</div>
<div class="tick" style="right:705px;top:558.5px;">10</div>
<div class="tick" style="right:705px;top:618.5px;">5</div>
<div class="tick" style="right:705px;top:679.5px;">0</div>
<div class="tick c" style="left:757.5px;width:200px;top:693px;">19:30</div>
<div class="tick c" style="left:862.5px;width:200px;top:693px;">19:40</div>
<div class="tick c" style="left:967.5px;width:200px;top:693px;">19:50</div>
</div>

<!-- legend used space -->
<div class="sw" style="left:94px;top:386px;background:#66b35c"></div>
<div class="leg" style="left:111px;top:381px;letter-spacing:-0.06px">mongo-persistent-storage-mongo-2</div>
<div class="leg" style="left:304px;top:381px;letter-spacing:-0.3px">Avg: 7%</div>

<!-- legend zpool time -->
<div class="rowbg" style="left:439px;top:514px;width:345px;height:25px"></div>
<div class="legh" style="right:905px;top:496.5px">min</div>
<div class="legh" style="right:853px;top:496.5px">max</div>
<div class="legh" style="right:792px;top:496.5px">avg</div>
<div class="abs" style="left:760px;top:490px;width:24px;height:20px;overflow:hidden"><div class="legh" style="left:0;top:6.5px;letter-spacing:-0.4px">current</div></div>
<div class="sw" style="left:449px;top:525px;background:#66b35c"></div>
<div class="leg" style="left:469px;top:519px">zfspv-pool - read</div>
<div class="leg" style="right:905px;top:519px">6 µs</div>
<div class="leg" style="right:853px;top:519px">1 ms</div>
<div class="leg" style="right:792px;top:519px">267 µs</div>
<div class="leg" style="left:763px;top:519px">172</div>
<div class="sw" style="left:449px;top:550px;background:#e3c00e"></div>
<div class="leg" style="left:469px;top:544px">zfspv-pool - write</div>
<div class="leg" style="right:905px;top:544px">55 ns</div>
<div class="leg" style="right:853px;top:544px">1 ms</div>
<div class="leg" style="right:792px;top:544px">204 µs</div>
<div class="leg" style="left:763px;top:544px">135</div>

<!-- legend zpool ops -->
<div class="rowbg" style="left:1165px;top:514px;width:340px;height:25px"></div>
<div class="legh" style="right:119px;top:496.5px">min</div>
<div class="legh" style="right:80px;top:496.5px">max</div>
<div class="legh" style="right:34px;top:496.5px">total</div>
<div class="sw" style="left:1175px;top:525px;background:#66b35c"></div>
<div class="leg" style="left:1195px;top:519px">zfspv-pool - reads</div>
<div class="leg" style="right:119px;top:519px">0</div>
<div class="leg" style="right:80px;top:519px">0</div>
<div class="leg" style="right:34px;top:519px">0</div>
<div class="sw" style="left:1175px;top:550px;background:#e3c00e"></div>
<div class="leg" style="left:1195px;top:544px">zfspv-pool - writes</div>
<div class="leg" style="right:119px;top:544px">0</div>
<div class="leg" style="right:80px;top:544px">13</div>
<div class="leg" style="right:34px;top:544px">187</div>

<!-- scrollbar -->
<div class="abs" style="left:1527.5px;top:53px;width:1.5px;height:288px;background:#3a3745;border-radius:1px"></div>
</body></html>
